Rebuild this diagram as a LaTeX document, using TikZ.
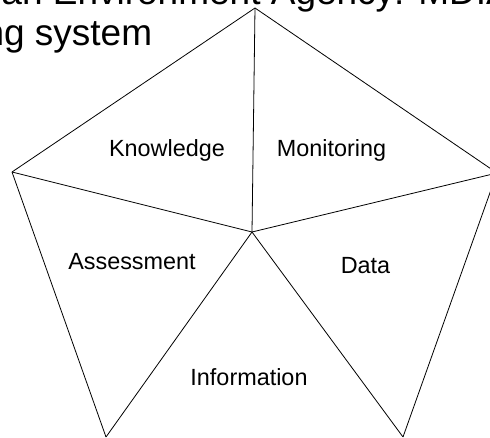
\documentclass[tikz,border=0pt]{standalone}
\usepackage{fontspec}
\setmainfont{Liberation Sans}
\begin{document}
\begin{tikzpicture}[x=1pt,y=-1pt,
  edge/.style={draw=black,line width=0.8pt},
  lbl/.style={anchor=base,inner sep=0pt,font=\fontsize{23.4}{28}\selectfont},
  ttl/.style={anchor=base west,inner sep=0pt,font=\fontsize{37}{44}\selectfont}]
\useasboundingbox (0,0) rectangle (490,438);
\clip (0,0) rectangle (490,438);
% title lines (cropped)
\node[ttl] (t1) at (-118,5) {European Environment Agency: MDIAK};
\node[ttl] (t2) at (-121.5,45.5) {reporting system};
% vertices
\coordinate (T) at (255,8);
\coordinate (L) at (12,172);
\coordinate (R) at (497,173);
\coordinate (C) at (252,232);
\coordinate (BL) at (106,437);
\coordinate (BR) at (403,437);
% edges
\draw[edge] (T) -- (L);
\draw[edge] (T) -- (R);
\draw[edge] (T) -- (C);
\draw[edge] (L) -- (C);
\draw[edge] (R) -- (C);
\draw[edge] (L) -- (BL);
\draw[edge] (BL) -- (C);
\draw[edge] (C) -- (BR);
\draw[edge] (BR) -- (R);
% labels
\node[lbl] (know) at (167,157) {Knowledge};
\node[lbl] (mon) at (331.5,157) {Monitoring};
\node[lbl] (ass) at (132,270) {Assessment};
\node[lbl] (dat) at (365.5,274) {Data};
\node[lbl] (inf) at (249,385) {Information};
\end{tikzpicture}
\end{document}
